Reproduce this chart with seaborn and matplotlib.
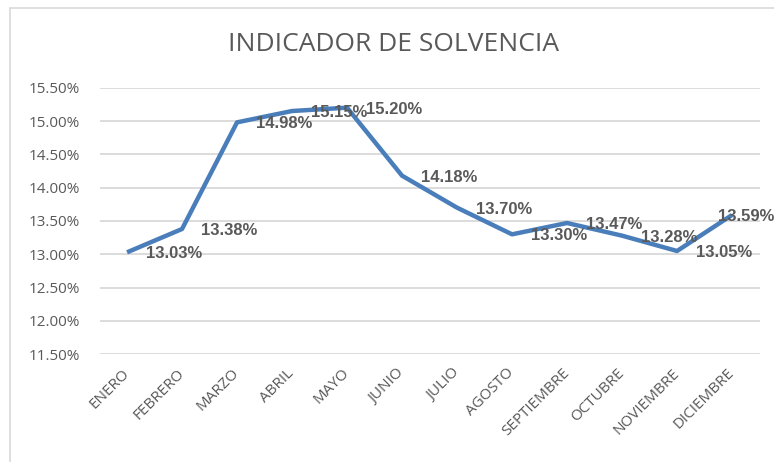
import matplotlib

matplotlib.use("Agg")
import matplotlib.pyplot as plt
import pandas as pd
import seaborn as sns
from matplotlib.patches import Rectangle
from matplotlib.ticker import FuncFormatter

meses = ["ENERO", "FEBRERO", "MARZO", "ABRIL", "MAYO", "JUNIO", "JULIO",
         "AGOSTO", "SEPTIEMBRE", "OCTUBRE", "NOVIEMBRE", "DICIEMBRE"]
solvencia = [13.03, 13.38, 14.98, 15.15, 15.20, 14.18, 13.70,
             13.30, 13.47, 13.28, 13.05, 13.59]
y_ticks = [11.5, 12.0, 12.5, 13.0, 13.5, 14.0, 14.5, 15.0, 15.5]

df = pd.DataFrame({"mes": meses, "valor": solvencia})

sns.set_theme(style="white")
plt.rcParams["font.family"] = ["Open Sans", "DejaVu Sans"]

fig = plt.figure(figsize=(7.74, 4.62), dpi=100)
ax = fig.add_axes([0.1286, 0.2331, 0.8527, 0.5771])

# chart frame like the Excel chart area
fig.patches.append(Rectangle((10 / 774, -0.05), 1.1, 1 - 8 / 462 + 0.05,
                             transform=fig.transFigure, fill=False,
                             edgecolor="#d9d9d9", linewidth=1.2))

sns.lineplot(data=df, x="mes", y="valor", ax=ax, sort=False,
             color="#4a7ebb", linewidth=3.2, solid_capstyle="butt")

for i, v in enumerate(solvencia):
    # the last label is pushed back inside the chart, as Excel does
    dx = 14 if i < len(solvencia) - 1 else -10
    ax.annotate(f"{v:.2f}%", (i, v), xytext=(dx, -1), textcoords="offset points",
                ha="left", va="center", fontsize=12, fontweight="bold",
                color="#595959", family=["Liberation Sans", "DejaVu Sans"])

ax.set_ylim(11.5, 15.5)
ax.set_xlim(-0.5, len(meses) - 0.5)
ax.set_yticks(y_ticks)
ax.yaxis.set_major_formatter(FuncFormatter(lambda v, p: f"{v:.2f}%"))
ax.grid(axis="y", color="#d9d9d9", linewidth=1.3)
ax.grid(axis="x", visible=False)
for s in ax.spines.values():
    s.set_visible(False)

ax.tick_params(axis="y", length=0, pad=14, labelsize=11, labelcolor="#595959")
ax.tick_params(axis="x", length=0, pad=12, labelsize=11, labelcolor="#595959")
plt.setp(ax.get_xticklabels(), rotation=45, ha="right", va="center",
         rotation_mode="anchor")
ax.set_xlabel("")
ax.set_ylabel("")

fig.text(0.508, 0.903, "INDICADOR DE SOLVENCIA", ha="center", va="center",
         fontsize=19, color="#595959")

fig.savefig("out.png", dpi=100)
